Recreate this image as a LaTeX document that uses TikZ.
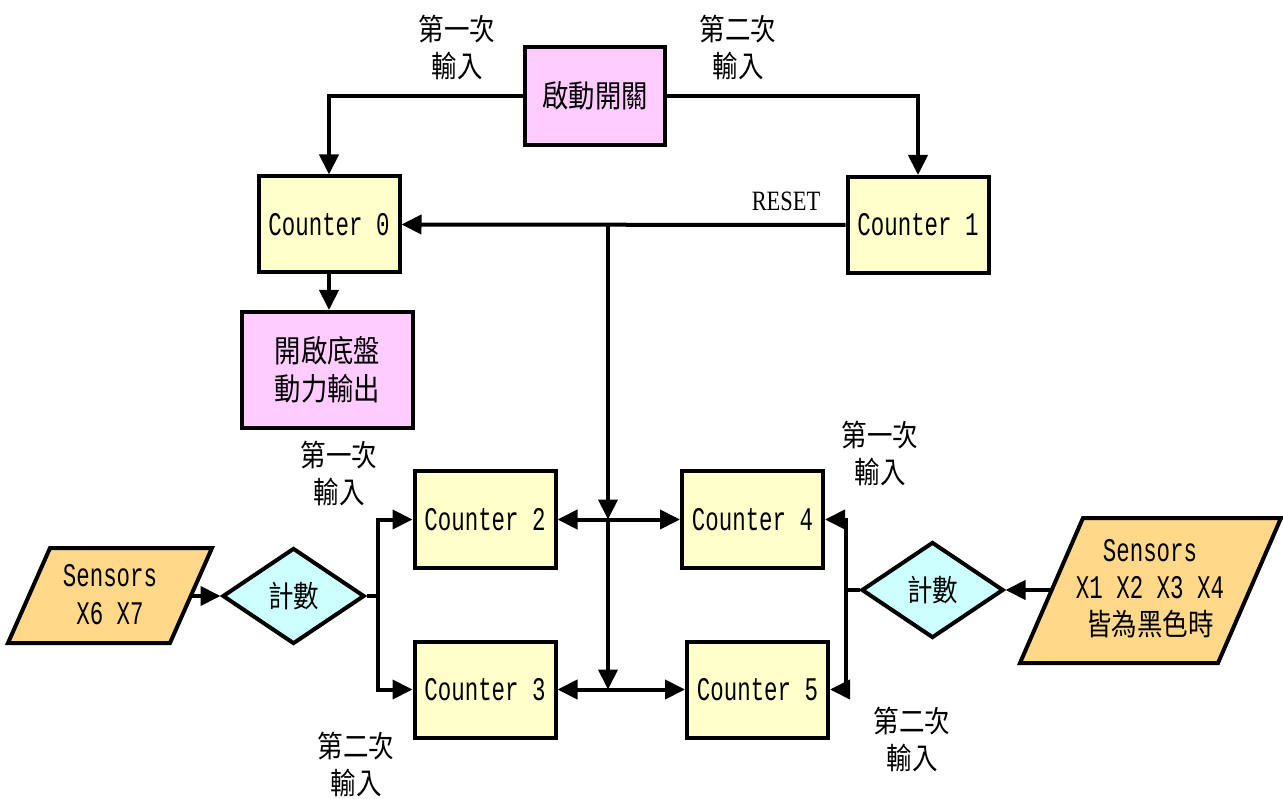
\documentclass[tikz,border=0pt]{standalone}
\usepackage{fontspec}
\setmainfont{Liberation Serif}
\newfontfamily\cmono[FakeStretch=0.68]{Liberation Mono}
\newfontfamily\cser[FakeStretch=0.8]{Liberation Serif}
\newfontfamily\cjk[FakeStretch=0.85]{Noto Sans CJK TC}
\usetikzlibrary{arrows.meta,shapes.geometric}
\definecolor{pinkf}{HTML}{FFCCFF}
\definecolor{yelf}{HTML}{FFFFCC}
\definecolor{orf}{HTML}{FFD88A}
\definecolor{cyf}{HTML}{CCFFFF}
\tikzset{
  box/.style={draw, line width=4pt, inner sep=0pt, align=center},
  ctr/.style={box, fill=yelf, minimum width=141pt, minimum height=96pt, font=\cmono\fontsize{33}{36}\selectfont},
  pbox/.style={box, fill=pinkf, font=\cjk\fontsize{31}{38}\selectfont},
  dia/.style={draw, line width=4pt, diamond, fill=cyf, inner sep=0pt, minimum width=142pt, minimum height=96pt, font=\cjk\fontsize{30}{30}\selectfont},
  lbl/.style={align=center, inner sep=0pt, font=\cjk\fontsize{30}{37}\selectfont},
  conn/.style={line width=4pt},
  arr/.style={conn, -{Triangle[length=20pt,width=19pt]}},
  para/.style={draw, line width=4pt, fill=orf, line join=miter},
}
\begin{document}
\begin{tikzpicture}[x=1pt,y=-1pt]
\useasboundingbox (0,0) rectangle (1283,799);
% nodes
\node[pbox, minimum width=140pt, minimum height=98pt] (sw) at (595,96) {啟動開關};
\node[ctr] (c0) at (329,224.5) {Counter 0};
\node[ctr] (c1) at (918,225) {Counter 1};
\node[pbox, minimum width=171pt, minimum height=116pt] (out) at (327.5,370) {開啟底盤\\動力輸出};
\node[ctr] (c2) at (485,519.5) {Counter 2};
\node[ctr] (c3) at (485,689.5) {Counter 3};
\node[ctr] (c4) at (752.5,519.5) {Counter 4};
\node[ctr] (c5) at (757.5,689.5) {Counter 5};
\node[dia] (d1) at (293.5,596) {計數};
\node[dia] (d2) at (932.5,590) {計數};
% parallelograms
\draw[para] (50,548) -- (212,548) -- (170,643) -- (8,643) -- cycle;
\node[align=center, inner sep=0pt, font=\cmono\fontsize{33}{38}\selectfont] (s1) at (110,595) {Sensors\\X6 X7};
\draw[para] (1083,518) -- (1281,518) -- (1218,663) -- (1020,663) -- cycle;
\node[align=center, inner sep=0pt, font=\cmono\fontsize{33}{37}\selectfont] (s2) at (1150,589) {Sensors\\X1 X2 X3 X4\\{\cjk\fontsize{30}{37}\selectfont 皆為黑色時}};
\coordinate (s1e) at (191,596);
\coordinate (s2w) at (1052,590);
% labels
\node[lbl] (l1) at (457,47) {第一次\\輸入};
\node[lbl] (l2) at (738,47) {第二次\\輸入};
\node[lbl] (l3) at (339,473) {第一次\\輸入};
\node[lbl] (l4) at (356,764) {第二次\\輸入};
\node[lbl] (l5) at (880,453) {第一次\\輸入};
\node[lbl] (l6) at (912,739) {第二次\\輸入};
\node[inner sep=0pt, font=\cser\fontsize{28}{30}\selectfont] (rs) at (786,201) {RESET};
% coordinates
\coordinate (b0) at (608,225);
\coordinate (b1) at (608,519.5);
\coordinate (b2) at (608,689.5);
\coordinate (j1) at (378,596);
\coordinate (j2) at (846,590);
% connectors
\draw[arr] (sw.west) -| (c0.north);
\draw[arr] (sw.east) -| (c1.north);
\draw[arr] (c1.west) -- (c0.east);
\draw[arr] (c0.south) -- (c0.south |- out.north);
\draw[arr] (b0) -- (b1);
\draw[arr] (b1) -- (b2);
\draw[arr] (b1) -- (c2.east);
\draw[arr] (b1) -- (c4.west);
\draw[arr] (b2) -- (c3.east);
\draw[arr] (b2) -- (c5.west);
\draw[arr] (s1e) -- (d1.west);
\draw[conn] (d1.east) -- (j1);
\draw[arr] (j1) |- (c2.west);
\draw[arr] (j1) |- (c3.west);
\draw[arr] (s2w) -- (d2.east);
\draw[conn] (d2.west) -- (j2);
\draw[arr] (j2) |- (c4.east);
\draw[arr] (j2) |- (c5.east);
\end{tikzpicture}
\end{document}
